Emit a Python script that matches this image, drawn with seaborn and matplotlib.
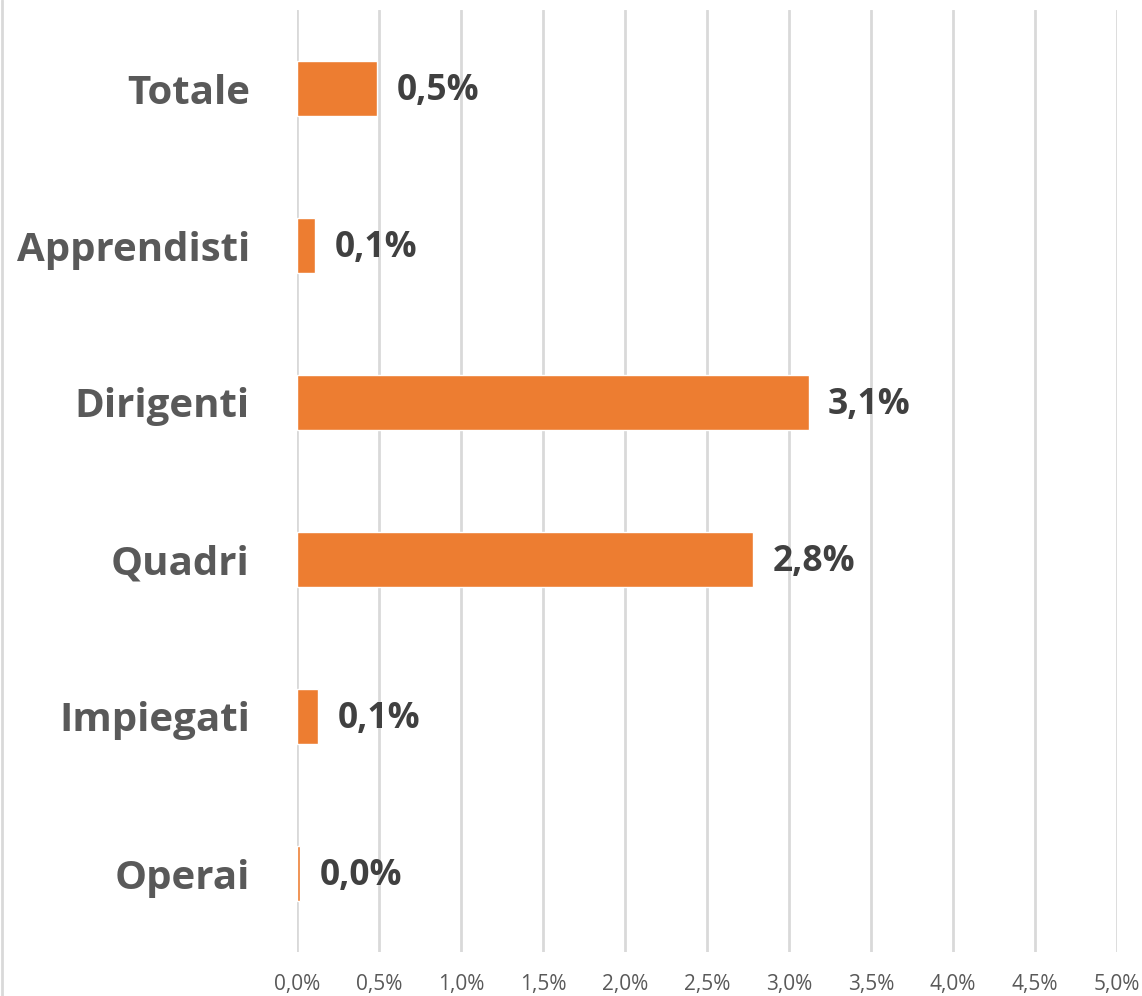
import pandas as pd
import matplotlib.pyplot as plt
import matplotlib.ticker as mticker
from matplotlib.lines import Line2D
import seaborn as sns

# Dati (percentuali)
categorie = ["Totale", "Apprendisti", "Dirigenti", "Quadri", "Impiegati", "Operai"]
valori = [0.49, 0.11, 3.12, 2.78, 0.13, 0.02]
etichette = ["0,5%", "0,1%", "3,1%", "2,8%", "0,1%", "0,0%"]
tick_valori = [0.0, 0.5, 1.0, 1.5, 2.0, 2.5, 3.0, 3.5, 4.0, 4.5, 5.0]

df = pd.DataFrame({"Categoria": categorie, "Valore": valori})

sns.set_theme(style="white")
plt.rcParams['font.family'] = ['Open Sans', 'DejaVu Sans']

fig = plt.figure(figsize=(11.42, 9.96), dpi=100)
ax = fig.add_axes([297 / 1142, 1 - 952 / 996, 820 / 1142, 942 / 996])

sns.barplot(data=df, x="Valore", y="Categoria", orient="h", color="#ED7D31",
            width=0.35, saturation=1, ax=ax, zorder=3)

ax.set_xlim(0, 5.0)
ax.set_ylim(len(categorie) - 0.5, -0.5)
ax.set_xticks(tick_valori)
ax.xaxis.set_major_formatter(mticker.FuncFormatter(lambda v, p: f"{v:.1f}%".replace(".", ",")))
ax.grid(axis="x", color="#D9D9D9", linewidth=2, zorder=0)
ax.grid(axis="y", visible=False)
for s in ax.spines.values():
    s.set_visible(False)

ax.set_xlabel("")
ax.set_ylabel("")
ax.tick_params(axis="x", labelsize=15, labelcolor="#595959", length=0, pad=16)
ax.tick_params(axis="y", length=0, pad=34)
for t in ax.get_yticklabels():
    t.set_fontsize(29)
    t.set_fontweight("bold")
    t.set_color("#595959")

for i, (v, lab) in enumerate(zip(valori, etichette)):
    ax.annotate(lab, xy=(v, i), xytext=(14, -2), textcoords="offset points",
                ha="left", va="center", fontsize=25.5, fontweight="bold", color="#404040")

# bordo sinistro del grafico
fig.add_artist(Line2D([2 / 1142, 2 / 1142], [0, 1], color="#D9D9D9", linewidth=2,
                      transform=fig.transFigure))

plt.savefig("out.png", dpi=100)
